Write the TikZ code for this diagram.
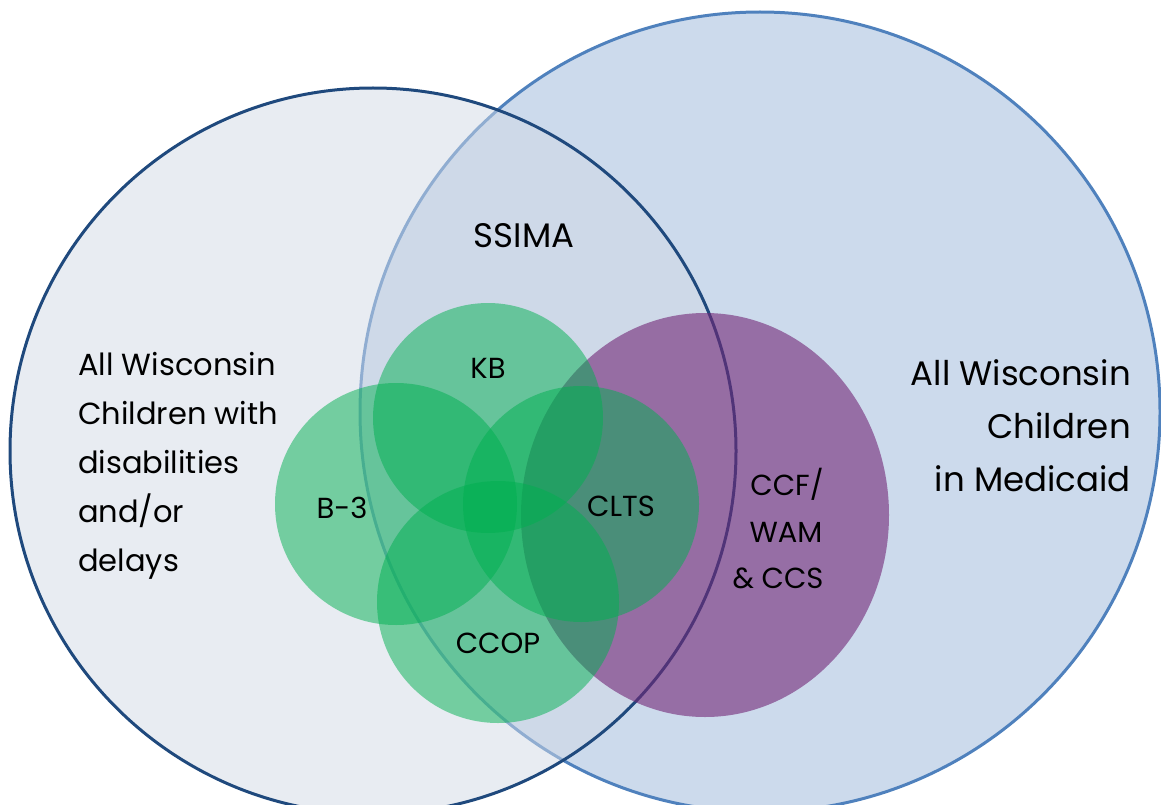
\documentclass[tikz,border=0pt]{standalone}
\usepackage{fontspec}
\setmainfont{Poppins}
\definecolor{rightfill}{RGB}{204,218,236}
\definecolor{rightline}{RGB}{79,129,189}
\definecolor{leftfill}{RGB}{209,217,229}
\definecolor{leftline}{RGB}{31,73,125}
\definecolor{purp}{RGB}{114,38,118}
\definecolor{grn}{RGB}{0,176,80}
\tikzset{
  setright/.style={fill=rightfill,draw=rightline,line width=3pt},
  setleft/.style={fill=leftfill,fill opacity=0.5,draw=leftline,draw opacity=1,line width=3pt},
  setpurple/.style={fill=purp,fill opacity=0.6},
  setgreen/.style={fill=grn,fill opacity=0.5},
  lbl/.style={inner sep=0pt,text=black,font=\fontsize{29}{34}\selectfont},
  sidelbl/.style={inner sep=0pt,text=black,font=\fontsize{30.5}{36}\selectfont},
  biglbl/.style={inner sep=0pt,text=black,font=\fontsize{34}{40}\selectfont}
}
\begin{document}
\begin{tikzpicture}[x=1pt,y=-1pt]
\useasboundingbox (0,0) rectangle (1161,805);
% big sets
\path[setright] (760,412) circle[radius=400];
\path[setleft] (373,451) circle[radius=363];
% purple set
\path[setpurple] (705,515) ellipse[x radius=184,y radius=202];
% green sets
\path[setgreen] (488,418) circle[radius=115];
\path[setgreen] (396,504) circle[radius=121];
\path[setgreen] (581,504) circle[radius=118];
\path[setgreen] (498,602) circle[radius=121];
% labels
\node[sidelbl,anchor=base west] (l1) at (78,375) {All Wisconsin};
\node[sidelbl,anchor=base west] (l2) at (78,424) {Children with};
\node[sidelbl,anchor=base west] (l3) at (78,473) {disabilities};
\node[sidelbl,anchor=base west] (l4) at (78,522) {and/or};
\node[sidelbl,anchor=base west] (l5) at (78,571) {delays};
\node[biglbl,anchor=base east] (r1) at (1131,385) {All Wisconsin};
\node[biglbl,anchor=base east] (r2) at (1131,438) {Children};
\node[biglbl,anchor=base east] (r3) at (1131,491) {in Medicaid};
\node[biglbl,anchor=base] (ssima) at (524,247) {SSIMA};
\node[lbl,anchor=base] (kb) at (488,378) {KB};
\node[lbl,anchor=base] (b3) at (342,518) {B-3};
\node[lbl,anchor=base] (clts) at (621,516) {CLTS};
\node[lbl,anchor=base] (ccop) at (498,653) {CCOP};
\node[lbl,anchor=base] (ccf) at (787,495) {CCF/};
\node[lbl,anchor=base] (wam) at (786,542) {WAM};
\node[lbl,anchor=base] (ccs) at (778,588) {\& CCS};
\end{tikzpicture}
\end{document}
